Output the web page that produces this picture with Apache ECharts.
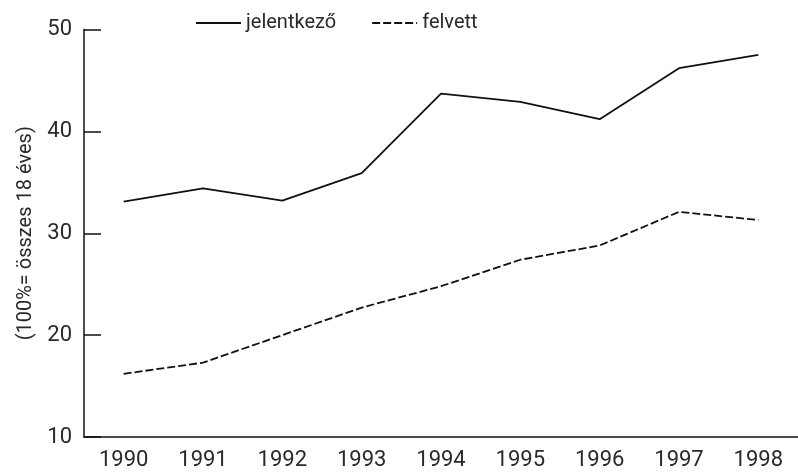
<!DOCTYPE html>
<html lang="hu">
<head>
<meta charset="UTF-8">
<title>Jelentkezők és felvettek</title>
<script src="https://cdn.jsdelivr.net/npm/echarts@6/dist/echarts.min.js"></script>
<style>
  html, body, #chart { width: 100%; height: 100%; margin: 0; background: #fff; }
</style>
</head>
<body>
<div id="chart"></div>
<script>
// adatok (100% = összes 18 éves)
var years = ['1990', '1991', '1992', '1993', '1994', '1995', '1996', '1997', '1998'];
var jelentkezo = [33.1, 34.4, 33.2, 35.9, 43.7, 42.9, 41.2, 46.2, 47.5];
var felvett = [16.2, 17.3, 20.0, 22.7, 24.8, 27.4, 28.8, 32.1, 31.3];

var font = "Roboto, 'Liberation Sans', sans-serif";
var chart = echarts.init(document.getElementById('chart'));

chart.setOption({
  animation: false,
  grid: { left: 84, top: 29.5, width: 723.6, height: 407.5 },
  legend: {
    left: 190, top: 8,
    itemWidth: 45, itemHeight: 14, itemGap: 35,
    itemStyle: { opacity: 0 },
    textStyle: { fontFamily: font, fontSize: 20, color: '#2a2a2a' },
    data: ['jelentkező', 'felvett']
  },
  xAxis: {
    type: 'category',
    data: years,
    boundaryGap: true,
    axisLine: { lineStyle: { color: '#111', width: 1.5 } },
    axisTick: { inside: true, length: 8, lineStyle: { color: '#111', width: 1.5 } },
    axisLabel: { fontFamily: font, fontSize: 22, color: '#2a2a2a', margin: 12 }
  },
  yAxis: {
    type: 'value',
    min: 10, max: 50, interval: 10,
    name: '(100%= összes 18 éves)',
    nameLocation: 'middle',
    nameRotate: 90,
    nameGap: 45,
    nameTextStyle: { fontFamily: font, fontSize: 20, color: '#2a2a2a' },
    splitLine: { show: false },
    axisLine: { show: true, lineStyle: { color: '#111', width: 1.5 } },
    axisTick: { show: true, inside: true, length: 17, lineStyle: { color: '#111', width: 1.5 } },
    axisLabel: { fontFamily: font, fontSize: 22, color: '#2a2a2a', margin: 12, padding: [8, 0, 0, 0] }
  },
  series: [
    {
      name: 'jelentkező', type: 'line', data: jelentkezo,
      symbol: 'none',
      lineStyle: { color: '#111', width: 1.8 },
      itemStyle: { color: '#111' }
    },
    {
      name: 'felvett', type: 'line', data: felvett,
      symbol: 'none',
      lineStyle: { color: '#111', width: 1.8, type: [8, 3] },
      itemStyle: { color: '#111' }
    }
  ]
});
window.onresize = chart.resize;
</script>
</body>
</html>
